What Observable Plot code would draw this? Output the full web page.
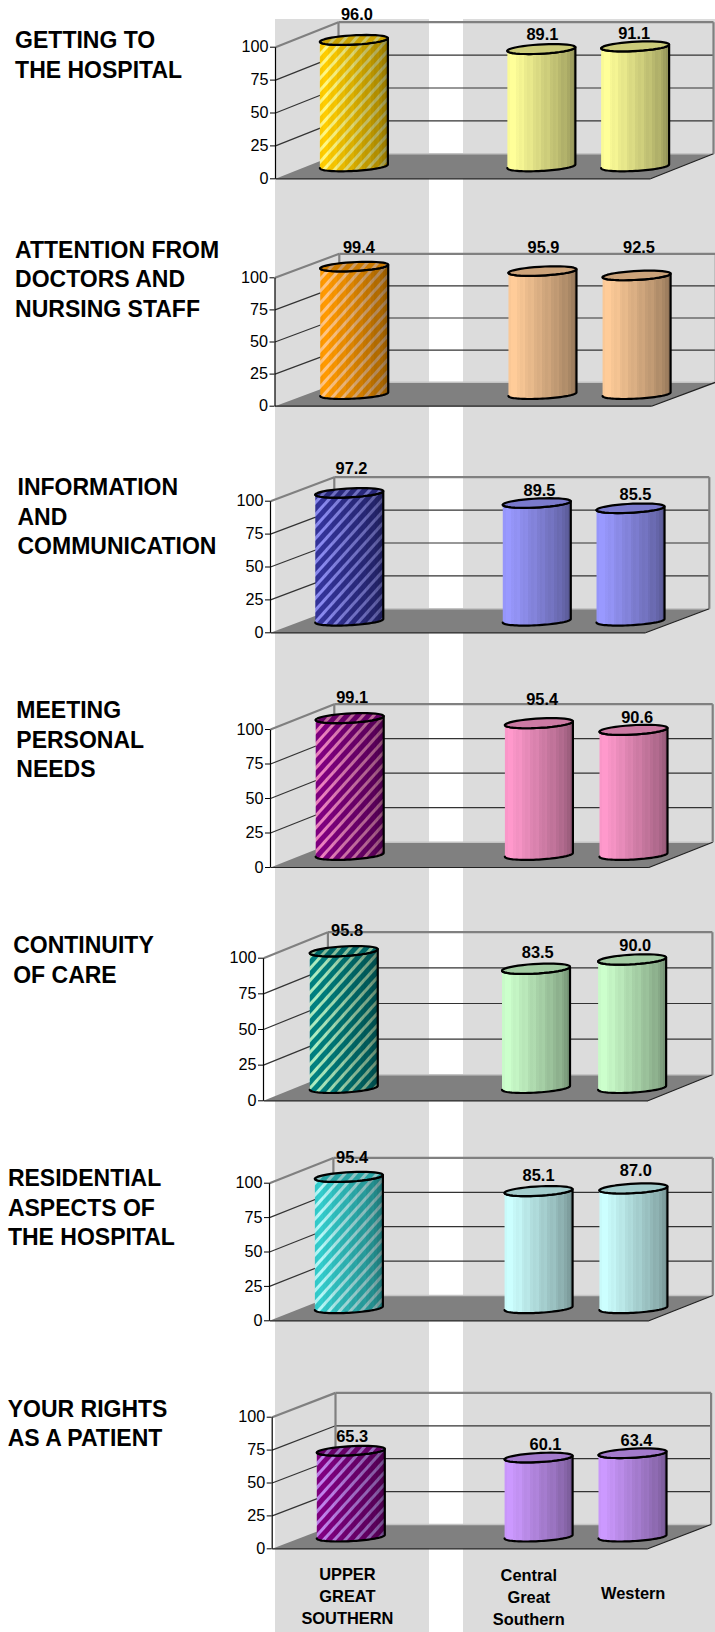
<!DOCTYPE html>
<html>
<head>
<meta charset="utf-8">
<script src="https://cdn.jsdelivr.net/npm/d3@7"></script>
<script src="https://cdn.jsdelivr.net/npm/@observablehq/plot@0.6"></script>
<style>
  html, body { margin: 0; padding: 0; background: #fff; overflow: hidden; }
  /* Two grey columns run behind all seven panels */
  #chart {
    position: relative; width: 715px; height: 1632px;
    background: linear-gradient(90deg, #fff 275px, #dcdcdc 275px, #dcdcdc 429px, #fff 429px, #fff 463px, #dcdcdc 463px) no-repeat 0 19px / 715px 1613px;
  }
  #chart svg { display: block; overflow: visible; }
</style>
</head>
<body>
<div id="chart"></div>
<script>
// Satisfaction scores per survey dimension and region
const regions = ["UPPER\nGREAT\nSOUTHERN", "", "Central\nGreat\nSouthern", "Western"];
const titles = [
  "GETTING TO\nTHE HOSPITAL",
  "ATTENTION FROM\nDOCTORS AND\nNURSING STAFF",
  "INFORMATION\nAND\nCOMMUNICATION",
  "MEETING\nPERSONAL\nNEEDS",
  "CONTINUITY\nOF CARE",
  "RESIDENTIAL\nASPECTS OF\nTHE HOSPITAL",
  "YOUR RIGHTS\nAS A PATIENT"
];
const upperGreatSouthern = [96.0, 99.4, 97.2, 99.1, 95.8, 95.4, 65.3];
const centralGreatSouthern = [89.1, 95.9, 89.5, 95.4, 83.5, 85.1, 60.1];
const western = [91.1, 92.5, 85.5, 90.6, 90.0, 87.0, 63.4];
const ticks = [0, 25, 50, 75, 100];

// Palette: saturated hatch base for the first region, pale tone for the others
const baseColors = ["#FFCC00", "#FF9900", "#333399", "#800080", "#008080", "#33CCCC", "#800080"];
const paleColors = ["#FFFF99", "#FFCC99", "#9999FF", "#FF99CC", "#CCFFCC", "#CCFFFF", "#CC99FF"];

// Panel layout, in page pixels
const slotHeights = [225, 230, 230, 230, 220, 235, 262];
const axisLeft = [275, 274.5, 270, 270, 263, 269, 271.7];
const zeroY = [178.3, 405.7, 632.3, 867, 1100.3, 1320.3, 1548.3];
const hundredY = [46.7, 277.3, 500.7, 729, 957.7, 1182.7, 1416.7];
const floorWidth = [375, 376.5, 375, 378.4, 384.5, 379.4, 375.6];
const depthX = [63, 64.3, 63.8, 63.8, 64.4, 63.9, 63.3];
const depthY = [25, 24, 24, 25.3, 26, 25.3, 24.3];
const titleLeft = [14.6, 14.6, 17, 15.8, 12.7, 7.4, 7.2];
const titleBaseline = [47.7, 257.3, 494.7, 717.7, 952.7, 1185.7, 1416.3];

// Hand-placed value labels: offset from the centre of each cylinder's top
const labelOffsets = [
  [[3, -25.5], [1, -14.5], [-1, -13]],
  [[4.7, -18.7], [1, -23.3], [2.4, -27.6]],
  [[2.2, -24], [2.7, -11.8], [5, -13.5]],
  [[2.4, -19.9], [3.3, -23.7], [3.6, -11.6]],
  [[3.3, -20.7], [1.7, -15.9], [3.1, -14]],
  [[3.2, -18.7], [0, -15.6], [2.4, -17.3]],
  [[1.4, -13.5], [6.9, -12.7], [4, -12]]
];
const regionLabelOffsets = [[-3.4, 16.1], [0, 0], [-9.8, 16.8], [0.7, 34.8]];

// Darkening across a cylinder: banded shading, light on the left
const shadeBands = [0.02, 0, 0, 0.03, 0.05, 0.04, 0.08, 0.1, 0.09, 0.13, 0.15, 0.14, 0.18, 0.2, 0.19, 0.23, 0.25, 0.24, 0.28, 0.31, 0.3, 0.34, 0.38, 0.42];

const FONT = "'Liberation Sans', Arial, Helvetica, sans-serif";
const DEPTH_CENTRE = 0.5, DEPTH_RADIUS = 0.2;
const chart = document.getElementById("chart");
let slotTop = 0;

titles.forEach((title, p) => {
  const width = 715, height = slotHeights[p];
  const unitX = floorWidth[p] / 4;           // pixels per region slot
  const unitY = (zeroY[p] - hundredY[p]) / 100; // pixels per score point
  const kx = depthX[p] / unitX, ky = depthY[p] / unitY; // oblique shear, in data units

  // Oblique projection of (slot, score, depth) into the x and y scales
  const at = (c, v, d) => ({x: c + d * kx, y: v + d * ky});
  const seg = (a, b) => ({x1: a.x, y1: a.y, x2: b.x, y2: b.y});

  const halfWidth = 34 / unitX;
  const rc = Math.sqrt(halfWidth ** 2 - (DEPTH_RADIUS * kx) ** 2);
  const rim = (c, v, t) => at(c + rc * Math.cos(t), v, DEPTH_CENTRE + DEPTH_RADIUS * Math.sin(t));
  const t0 = Math.atan2(DEPTH_RADIUS * kx, rc);
  const arc = (c, v, from, to) => d3.range(41).map(i => rim(c, v, from + (to - from) * i / 40));

  const values = [upperGreatSouthern[p], null, centralGreatSouthern[p], western[p]];
  const bars = [0, 2, 3].map((i, n) => ({i, v: values[i], off: labelOffsets[p][n]}));

  const solid = {x: "x", y: "y", stroke: "none"};
  const cylinderMarks = [];
  bars.forEach(({i, v}) => {
    const c = i + 0.5;
    const body = [...arc(c, 0, t0 + Math.PI, t0 + 2 * Math.PI), ...arc(c, v, t0 + 2 * Math.PI, t0 + Math.PI)];
    const cap = arc(c, v, 0, 2 * Math.PI);
    const skin = i === 0 ? `url(#hatch${p})` : paleColors[p];
    cylinderMarks.push(
      Plot.line(body, {...solid, fill: skin}),
      Plot.line(body, {...solid, fill: `url(#shade${p})`}),
      Plot.line(body, {x: "x", y: "y", fill: "none", stroke: "#000", strokeWidth: 2.2, strokeLinejoin: "round"}),
      Plot.line(cap, {...solid, fill: skin}),
      Plot.line(cap, {...solid, fill: "#000", fillOpacity: 0.2}),
      Plot.line(cap, {x: "x", y: "y", fill: "none", stroke: "#000", strokeWidth: 2.2})
    );
  });

  const floor = [at(0, 0, 0), at(4, 0, 0), at(4, 0, 1), at(0, 0, 1)];
  const innerTicks = [25, 50, 75];
  const frame = [
    seg(at(0, 100, 0), at(0, 100, 1)),
    seg(at(0, 100, 1), at(4, 100, 1)),
    seg(at(0, 0, 1), at(0, 100, 1)),
    seg(at(4, 0, 1), at(4, 100, 1))
  ];
  const grid = innerTicks.flatMap(v => [seg(at(0, v, 0), at(0, v, 1)), seg(at(0, v, 1), at(4, v, 1))]);
  const link = {x1: "x1", y1: "y1", x2: "x2", y2: "y2"};

  const labelMarks = bars.map(({i, v, off}) => {
    const top = at(i + 0.5, v, DEPTH_CENTRE);
    return Plot.text([{...top, label: d3.format(".1f")(v)}], {
      x: "x", y: "y", text: "label", dx: off[0], dy: off[1],
      fontSize: 16.4, fontWeight: "bold", fill: "#000", textAnchor: "middle", lineAnchor: "middle"
    });
  });

  // Region names sit only under the last panel
  const regionMarks = p === titles.length - 1
    ? [0, 2, 3].map(i => Plot.text([{...at(i + 0.5, 0, DEPTH_CENTRE), y: 0, label: regions[i]}], {
        x: "x", y: "y", text: "label", dx: regionLabelOffsets[i][0], dy: regionLabelOffsets[i][1],
        fontSize: 16.4, fontWeight: "bold", fill: "#000", textAnchor: "middle", lineAnchor: "top", lineHeight: 1.34
      }))
    : [];

  const titleSize = 23, titleLead = 29.5 / titleSize;
  const titleTop = titleBaseline[p] - slotTop - 0.71 * titleLead * titleSize;

  const svg = Plot.plot({
    width, height,
    marginLeft: axisLeft[p], marginRight: 0, marginTop: 0, marginBottom: 0,
    style: {background: "transparent", fontFamily: FONT, overflow: "visible"},
    x: {type: "linear", axis: null, domain: [0, 4], range: [axisLeft[p], axisLeft[p] + floorWidth[p]]},
    y: {type: "linear", domain: [0, 100], range: [zeroY[p] - slotTop, hundredY[p] - slotTop]},
    marks: [
      Plot.link(grid, {...link, stroke: "#333", strokeWidth: 1.2}),
      Plot.link(frame, {...link, stroke: "#808080", strokeWidth: 2.2}),
      Plot.line(floor, {...solid, fill: "#808080"}),
      Plot.link([seg(at(0, 0, 1), at(4, 0, 1))], {...link, stroke: "#c4c4c4", strokeWidth: 1.5}),
      Plot.link([seg(at(0, 0, 0), at(4, 0, 0)), seg(at(4, 0, 0), at(4, 0, 1))], {...link, stroke: "#222", strokeWidth: 1.2}),
      Plot.link([seg(at(0, 0, 0), at(0, 100, 0))], {...link, stroke: "#000", strokeWidth: 1.2}),
      Plot.axisY({
        ticks, tickFormat: d => String(d), tickSize: 5, tickPadding: 2,
        fontSize: 16.2, fill: "#000", stroke: "#000", label: null
      }),
      ...cylinderMarks,
      ...labelMarks,
      ...regionMarks,
      Plot.text([title], {
        frameAnchor: "top-left", dx: titleLeft[p] - axisLeft[p], dy: titleTop,
        fontSize: titleSize, fontWeight: "bold", fill: "#000",
        textAnchor: "start", lineAnchor: "top", lineHeight: titleLead
      })
    ]
  });

  // Fills referenced by the cylinders: stripes for the first region, shading for all
  const defs = d3.create("svg:defs");
  const hatch = defs.append("pattern").attr("id", `hatch${p}`)
    .attr("patternUnits", "userSpaceOnUse").attr("width", 8).attr("height", 8)
    .attr("patternTransform", "rotate(42)");
  hatch.append("rect").attr("width", 8).attr("height", 8).attr("fill", baseColors[p]);
  hatch.append("rect").attr("width", 3).attr("height", 8).attr("fill", paleColors[p]).attr("fill-opacity", 0.85);
  const shade = defs.append("linearGradient").attr("id", `shade${p}`);
  shadeBands.forEach((o, k) => {
    shade.append("stop").attr("offset", k / shadeBands.length).attr("stop-color", "#000").attr("stop-opacity", o);
    shade.append("stop").attr("offset", (k + 1) / shadeBands.length).attr("stop-color", "#000").attr("stop-opacity", o);
  });
  svg.insertBefore(defs.node(), svg.firstChild);

  chart.appendChild(svg);
  slotTop += height;
});
</script>
</body>
</html>
